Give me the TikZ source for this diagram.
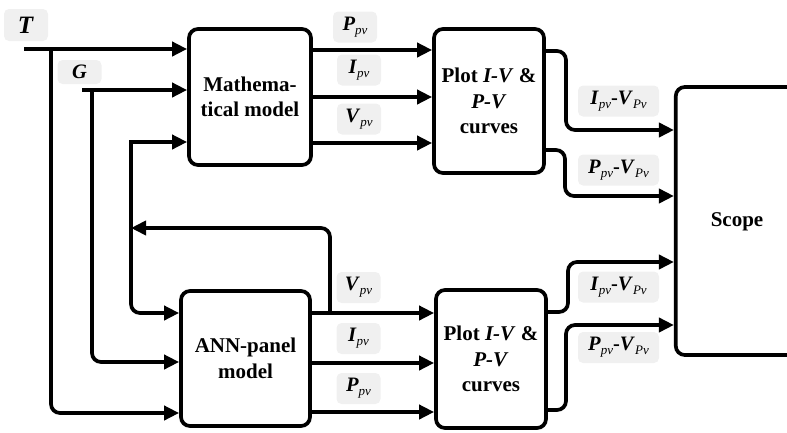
\documentclass[tikz,border=0pt]{standalone}
\usepackage{fontspec}
\setmainfont{Liberation Serif}
\usetikzlibrary{arrows.meta}

% variable with an italic subscript, e.g. P_pv
\newcommand{\pvar}[2]{\textbf{\textit{#1}}\raisebox{-0.45ex}{\fontsize{13}{13}\selectfont\textit{#2}}}

\begin{document}
\begin{tikzpicture}[x=1pt,y=-1pt,line width=3.7pt,
  blockbox/.style={draw, rounded corners=9pt, line width=3.7pt, align=center,
    inner sep=0pt, font=\fontsize{21}{25.5}\selectfont\bfseries},
  tagbox/.style={fill=black!6, rounded corners=5pt, inner sep=0pt,
    minimum height=31pt, font=\fontsize{20.5}{20.5}\selectfont},
  sigtag/.style={tagbox, minimum width=44pt},
  pairtag/.style={tagbox, minimum width=81pt},
  arr/.style={-{Triangle[length=15pt,width=14pt]}},
  roundpath/.style={rounded corners=9pt}]

\useasboundingbox (0,0) rectangle (787,432);
\clip (0,0) rectangle (787,432);

% blocks
\node[blockbox, minimum width=122pt, minimum height=136pt] (math) at (250,97) {Mathema-\\tical model};
\node[blockbox, minimum width=110pt, minimum height=144pt] (plotA) at (489,101) {Plot \textit{I-V} \&\\\textit{P-V}\\curves};
\node[blockbox, minimum width=129pt, minimum height=135pt] (ann) at (245.5,358.5) {ANN-panel\\model};
\node[blockbox, minimum width=110pt, minimum height=138pt] (plotB) at (491,359) {Plot \textit{I-V} \&\\\textit{P-V}\\curves};
\node[blockbox, minimum width=200pt, minimum height=268pt] (scope) at (775.8,221) {};
\node[font=\fontsize{21}{21}\selectfont\bfseries] (scopetxt) at (737,222) {Scope};

% input tags
\node[tagbox, minimum width=44pt, minimum height=32pt, font=\fontsize{25}{25}\selectfont] (tT) at (26,25) {\textbf{\textit{T}}};
\node[tagbox, minimum width=44pt, minimum height=24pt] (tG) at (79.5,72) {\textbf{\textit{G}}};

% free ends of the inputs
\coordinate (tin) at (24,49);
\coordinate (tsplit) at (51,49);
\coordinate (gin) at (82,90);
\coordinate (gsplit) at (92,90);
\coordinate (vtop) at (131,142);
\coordinate (vjoin) at (131,228);
\coordinate (vtap) at (330,313);

% temperature and irradiance to both models
\draw[arr] (tin) -- (tin -| math.west);
\draw[arr, roundpath] (tsplit) -- (51,413) -- (ann.west |- 0,413);
\draw[arr] (gin) -- (gin -| math.west);
\draw[arr, roundpath] (gsplit) -- (92,362) -- (ann.west |- 0,362);

% voltage fed back to both models
\draw[arr, roundpath] (vtap) -- (330,228) -- (vjoin);
\draw[arr] (vjoin) -- (vtop) -- (vtop -| math.west);
\draw[arr, roundpath] (vjoin) -- (131,313) -- (ann.west |- 0,313);

% mathematical model outputs
\draw[arr] (math.east |- 0,50) -- (plotA.west |- 0,50);
\draw[arr] (math.east |- 0,97) -- (plotA.west |- 0,97);
\draw[arr] (math.east |- 0,143) -- (plotA.west |- 0,143);
\node[sigtag] (mP) at (355,27) {\pvar{P}{pv}};
\node[sigtag] (mI) at (359,70) {\pvar{I}{pv}};
\node[sigtag] (mV) at (359,119) {\pvar{V}{pv}};

% ANN model outputs
\draw[arr] (ann.east |- 0,313) -- (plotB.west |- 0,313);
\draw[arr] (ann.east |- 0,363) -- (plotB.west |- 0,363);
\draw[arr] (ann.east |- 0,412) -- (plotB.west |- 0,412);
\node[sigtag] (aV) at (358.5,287.5) {\pvar{V}{pv}};
\node[sigtag] (aI) at (358.5,338.5) {\pvar{I}{pv}};
\node[sigtag] (aP) at (358.5,388.5) {\pvar{P}{pv}};

% curves to the scope
\draw[arr, roundpath] (plotA.east |- 0,51) -- (566,51) -- (566,130) -- (scope.west |- 0,130);
\draw[arr, roundpath] (plotA.east |- 0,150) -- (565,150) -- (565,196) -- (scope.west |- 0,196);
\draw[arr, roundpath] (plotB.east |- 0,312) -- (568,312) -- (568,262) -- (scope.west |- 0,262);
\draw[arr, roundpath] (plotB.east |- 0,410) -- (566,410) -- (566,325) -- (scope.west |- 0,325);
\node[pairtag] (pA1) at (618.5,101) {\pvar{I}{pv}\textbf{-}\pvar{V}{Pv}};
\node[pairtag] (pA2) at (618.5,170) {\pvar{P}{pv}\textbf{-}\pvar{V}{Pv}};
\node[pairtag] (pB1) at (618.5,287) {\pvar{I}{pv}\textbf{-}\pvar{V}{Pv}};
\node[pairtag] (pB2) at (618.5,347.5) {\pvar{P}{pv}\textbf{-}\pvar{V}{Pv}};
\end{tikzpicture}
\end{document}
